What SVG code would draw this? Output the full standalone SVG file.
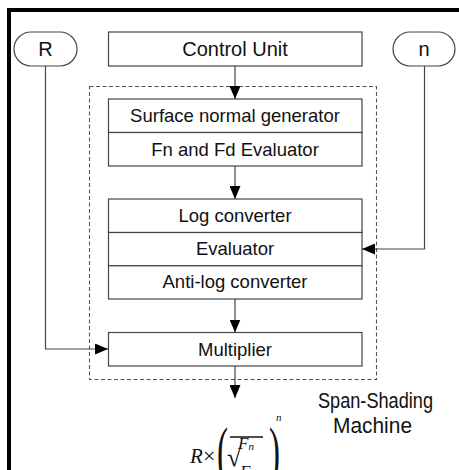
<svg xmlns="http://www.w3.org/2000/svg" width="459" height="470" viewBox="0 0 459 470">
<style>
  .box{fill:#fff;stroke:#444;stroke-width:1.2}
  .lbl{font-family:"Liberation Sans",Arial,sans-serif;font-size:18.5px;fill:#111;text-anchor:middle}
  .big{font-size:20px}
  .conn{fill:none;stroke:#444;stroke-width:1.2}
  .dash{fill:none;stroke:#555;stroke-width:1.1;stroke-dasharray:4,2.5}
  .cap{font-family:"Liberation Sans Narrow","Liberation Sans",Arial,sans-serif;font-size:22px;fill:#111}
  .math{font-family:"Liberation Serif","Times New Roman",serif;fill:#111}
</style>
<defs>
  <marker id="arr" markerUnits="userSpaceOnUse" markerWidth="13" markerHeight="11" refX="13" refY="5.5" orient="auto">
    <path d="M0,0 L13,5.5 L0,11 z" fill="#000"/>
  </marker>
</defs>
<rect width="459" height="470" fill="#fff"/>
<!-- outer frame -->
<path d="M9,470 V10 H459" fill="none" stroke="#000" stroke-width="4"/>

<rect class="dash" x="89.5" y="86.5" width="287" height="293"/>

<g id="connectors">
  <line class="conn" x1="235" y1="66" x2="235" y2="99" marker-end="url(#arr)"/>
  <line class="conn" x1="235" y1="166" x2="235" y2="199" marker-end="url(#arr)"/>
  <line class="conn" x1="235" y1="299" x2="235" y2="332.5" marker-end="url(#arr)"/>
  <line class="conn" x1="235" y1="366" x2="235" y2="398" marker-end="url(#arr)"/>
  <polyline class="conn" points="45.5,66 45.5,349 108,349" marker-end="url(#arr)"/>
  <polyline class="conn" points="424.5,66 424.5,249 362,249" marker-end="url(#arr)"/>
</g>

<g id="R">
  <rect class="box" x="14" y="32" width="63" height="34" rx="17" ry="17"/>
  <text class="lbl big" x="45.5" y="56">R</text>
</g>
<g id="n">
  <rect class="box" x="393" y="32" width="62" height="34" rx="17" ry="17"/>
  <text class="lbl big" x="424" y="56">n</text>
</g>
<g id="control-unit">
  <rect class="box" x="108.5" y="32" width="253.5" height="34"/>
  <text class="lbl big" x="235" y="56">Control Unit</text>
</g>
<g id="surface-normal">
  <rect class="box" x="108.5" y="99" width="253.5" height="33.5"/>
  <text class="lbl" x="235" y="122">Surface normal generator</text>
</g>
<g id="fn-fd">
  <rect class="box" x="108.5" y="132.5" width="253.5" height="33.5"/>
  <text class="lbl" x="235" y="155.5">Fn and Fd Evaluator</text>
</g>
<g id="log-converter">
  <rect class="box" x="108.5" y="199" width="253.5" height="33.5"/>
  <text class="lbl" x="235" y="222">Log converter</text>
</g>
<g id="evaluator">
  <rect class="box" x="108.5" y="232.5" width="253.5" height="33.3"/>
  <text class="lbl" x="235" y="255">Evaluator</text>
</g>
<g id="anti-log">
  <rect class="box" x="108.5" y="265.8" width="253.5" height="33.2"/>
  <text class="lbl" x="235" y="288">Anti-log converter</text>
</g>
<g id="multiplier">
  <rect class="box" x="108.5" y="332.5" width="253.5" height="33.5"/>
  <text class="lbl" x="235" y="355.5">Multiplier</text>
</g>

<g id="caption">
  <text class="cap" x="318" y="408" textLength="115" lengthAdjust="spacingAndGlyphs">Span-Shading</text>
  <text class="cap" x="333" y="433" textLength="79" lengthAdjust="spacingAndGlyphs">Machine</text>
</g>

<g id="formula">
  <text class="math" x="190" y="463" font-size="21" font-style="italic">R</text>
  <text class="math" x="203" y="463" font-size="22">×</text>
  <text class="math" x="217" y="473" font-size="66" transform="translate(217,0) scale(0.5,1) translate(-217,0)">(</text>
  <text class="math" x="269" y="473" font-size="66" transform="translate(269,0) scale(0.5,1) translate(-269,0)">)</text>
  <text class="math" x="276" y="421" font-size="11" font-style="italic">n</text>
  <text class="math" x="227" y="466" font-size="26">√</text>
  <line x1="230" y1="437" x2="263" y2="437" stroke="#111" stroke-width="1.3"/>
  <text class="math" x="238" y="449" font-size="17" font-style="italic">F<tspan font-size="11" dy="1">n</tspan></text>
  <text class="math" x="240" y="477" font-size="17" font-style="italic">F<tspan font-size="11" dy="1">d</tspan></text>
</g>
</svg>
